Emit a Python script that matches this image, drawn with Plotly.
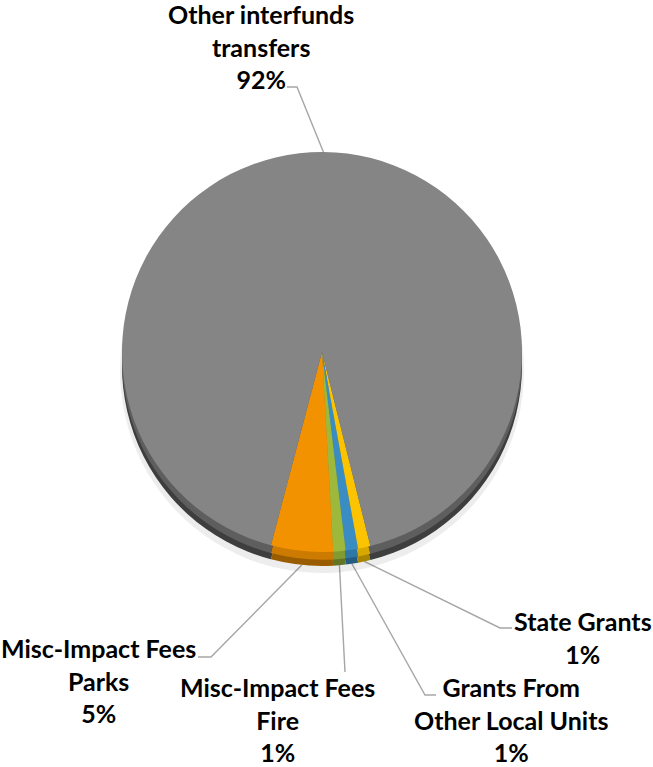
import math
import plotly.graph_objects as go

W, H = 653, 767

# Revenue sources, in clockwise order from the starting angle
sources = [
    "State Grants",
    "Grants From<br>Other Local Units",
    "Misc-Impact Fees<br>Fire",
    "Misc-Impact Fees<br>Parks",
    "Other interfunds<br>transfers",
]
shares = [1, 1, 1, 5, 92]

face_colors = ["#FBC300", "#3A8DC2", "#9DB83A", "#F39200", "#858585"]
mid_colors = ["#D9A800", "#2F77A5", "#829B30", "#CC7A00", "#5E5E5E"]
rim_colors = ["#A98400", "#245C82", "#627526", "#9A5C00", "#3E3E3E"]

# Pie geometry (pixel space, y downward)
START = 166          # first slice starts this many degrees clockwise from 12 o'clock
CX, CY, R = 322, 352, 200
RIM = 14             # visible depth of the pie edge

# Label anchors: (x centre, y centre) and the elbow of each leader line
label_pos = [(583, 637), (511, 719), (277, 719), (98, 680), (261, 46)]
leader_end = [
    [(512, 628), (500, 628)],
    [(436, 695), (425, 695)],
    [(345, 672)],
    [(198, 657), (211, 657)],
    [(287, 87), (297, 87)],
]


def domain(dy, r=R):
    return dict(
        x=[(CX - r) / W, (CX + r) / W],
        y=[1 - (CY + dy + r) / H, 1 - (CY + dy - r) / H],
    )


def pie_layer(colors, dy, r=R, hover=False):
    return go.Pie(
        labels=[s.replace("<br>", " ") for s in sources],
        values=shares,
        sort=False,
        direction="clockwise",
        rotation=START,
        marker=dict(colors=colors, line=dict(width=0)),
        textinfo="none",
        hoverinfo="label+percent" if hover else "skip",
        showlegend=False,
        domain=domain(dy, r),
    )


fig = go.Figure()

# soft shadow, edge depth and the top face
fig.add_trace(pie_layer(["rgba(0,0,0,0.07)"] * len(shares), RIM + 5, R + 2))
fig.add_trace(pie_layer(rim_colors, RIM))
fig.add_trace(pie_layer(mid_colors, RIM * 0.55))
fig.add_trace(pie_layer(face_colors, 0, hover=True))

# leader lines from each slice's mid-angle to its label
total = sum(shares)
angle = START
for i, v in enumerate(shares):
    span = 360 * v / total
    mid = math.radians(angle + span / 2)
    angle += span
    sx = CX + R * math.sin(mid)
    sy = CY - R * math.cos(mid)
    if math.cos(mid) < 0:          # lower half: attach to the pie edge
        sy += RIM
    pts = [(sx, sy)] + leader_end[i][::-1]
    fig.add_trace(go.Scatter(
        x=[p[0] for p in pts], y=[p[1] for p in pts],
        mode="lines", line=dict(color="#A6A6A6", width=1.4),
        hoverinfo="skip", showlegend=False,
    ))

# category labels with percentages
for i, v in enumerate(shares):
    pct = round(100 * v / total)
    fig.add_annotation(
        x=label_pos[i][0], y=label_pos[i][1], xref="x", yref="y",
        text=f"<b>{sources[i]}<br>{pct}%</b>",
        showarrow=False, xanchor="center", yanchor="middle", align="center",
        font=dict(family="Lato", size=25, color="#000000"),
    )

fig.update_layout(
    width=W, height=H,
    margin=dict(l=0, r=0, t=0, b=0),
    paper_bgcolor="white", plot_bgcolor="rgba(0,0,0,0)",
    xaxis=dict(range=[0, W], visible=False, fixedrange=True, domain=[0, 1]),
    yaxis=dict(range=[H, 0], visible=False, fixedrange=True, domain=[0, 1]),
    showlegend=False,
)

fig.write_html("out.html")
